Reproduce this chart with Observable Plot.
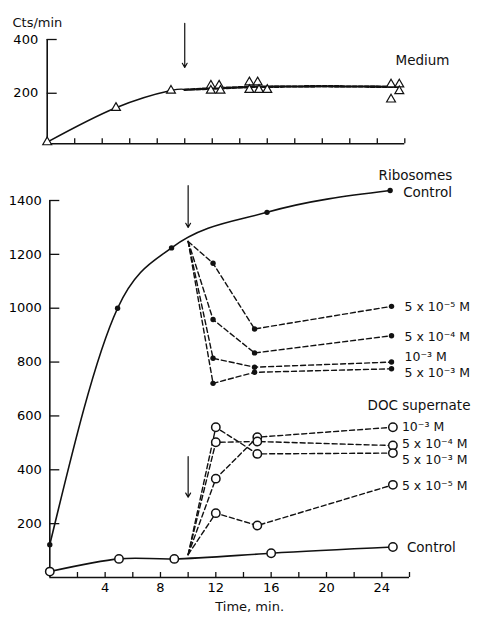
<!DOCTYPE html>
<html><head><meta charset="utf-8">
<script src="https://cdn.jsdelivr.net/npm/d3@7"></script>
<script src="https://cdn.jsdelivr.net/npm/@observablehq/plot@0.6"></script>
<style>
body{margin:0;background:#fff;}
#wrap{position:relative;width:484px;height:617px;}
#top{position:absolute;left:0;top:0;}
#main{position:absolute;left:0;top:160px;}
svg{overflow:visible}
</style></head><body><div id="wrap"><div id="top"></div><div id="main"></div></div>
<script>
// ---------- tick values ----------
const timeTicks = [0, 2, 4, 6, 8, 10, 12, 14, 16, 18, 20, 22, 24, 26];
const timeTickLabels = [4, 8, 12, 16, 20, 24];
const medYTicks = [200, 400];
const mainYTicks = [200, 400, 600, 800, 1000, 1200, 1400];

// ---------- Medium (top panel) ----------
const medCurveTime = [0, 5, 9, 10];
const medCurveVal = [18, 146, 210, 213];
const medDashTime = [10, 12, 15, 20, 25.5];
const medDashVal = [213, 218, 224, 226, 224];
const medTriTime = [0, 5, 9, 11.9, 12.5, 11.9, 12.6, 14.7, 15.3, 14.7, 15.4, 16.0, 25.0, 25.6, 25.0, 25.6];
const medTriVal  = [18, 146, 210, 229, 229, 210, 210, 241, 241, 213, 213, 213, 233, 233, 177, 208];
const medArrow = [{t: 10, from: 460, to: 296}];

// ---------- Ribosomes ----------
const ribCtrlTime = [0, 4.9, 8.8, 15.7, 24.6];
const ribCtrlVal = [122, 1000, 1224, 1356, 1437];
const ribTimes = [10, 11.8, 14.8, 24.7];
const rib5e5 = [1248, 1167, 923, 1007];
const rib5e4 = [1248, 958, 834, 898];
const rib1e3 = [1248, 814, 781, 800];
const rib5e3 = [1248, 721, 762, 775];
const ribNames = ["5 x 10⁻⁵ M", "5 x 10⁻⁴ M", "10⁻³ M", "5 x 10⁻³ M"];
const ribArrow = [{t: 10, from: 1455, to: 1300}];

// ---------- DOC supernate ----------
const docCtrlTime = [0, 5, 9, 16, 24.8];
const docCtrlVal = [22, 69, 69, 90, 113];
const docTimes = [10, 12, 15, 24.8];
const doc1e3 = [85, 367, 521, 558];
const doc5e4 = [85, 502, 505, 490];
const doc5e3 = [85, 558, 459, 462];
const doc5e5 = [85, 239, 193, 344];
const docNames = ["10⁻³ M", "5 x 10⁻⁴ M", "5 x 10⁻³ M", "5 x 10⁻⁵ M"];
const docArrow = [{t: 10, from: 449, to: 298}];

// ---------- build tables ----------
const zip = (ts, vs) => ts.map((t, i) => ({t, v: vs[i]}));
const medCurve = zip(medCurveTime, medCurveVal);
const medDash = zip(medDashTime, medDashVal);
const medTri = zip(medTriTime, medTriVal);
const ribCtrl = zip(ribCtrlTime, ribCtrlVal);
const docCtrl = zip(docCtrlTime, docCtrlVal);
const ribValues = [rib5e5, rib5e4, rib1e3, rib5e3];
const docValues = [doc1e3, doc5e4, doc5e3, doc5e5];
const ribRows = ribValues.flatMap((vs, k) => ribTimes.map((t, i) => ({t, v: vs[i], s: ribNames[k], i})));
const docRows = docValues.flatMap((vs, k) => docTimes.map((t, i) => ({t, v: vs[i], s: docNames[k], i})));
const ribLabelDy = [1, 1, -5, 4];
const docLabelDy = [0, -2, 7, 1];

const FONT = "DejaVu Sans, sans-serif";
const baseStyle = {fontFamily: FONT, fontSize: "13px", background: "transparent", overflow: "visible", color: "#000"};
const ink = "#111";

// ---------- top panel ----------
const topW = 484, topH = 160, topML = 46.7, topMR = 79.7, topMT = 39, topMB = 16.7;
const topPlot = Plot.plot({
  width: topW, height: topH,
  marginLeft: topML, marginRight: topMR, marginTop: topMT, marginBottom: topMB,
  style: baseStyle,
  x: {domain: [0, 26], axis: null},
  y: {domain: [12, 400], ticks: medYTicks, tickSize: 0, tickPadding: 9, tickFormat: d => String(d), label: null},
  marks: [
    Plot.ruleY([12], {stroke: ink, strokeWidth: 1.6}),
    Plot.ruleX([0], {stroke: ink, strokeWidth: 1.6}),
    Plot.tickX(timeTicks, {x: d => d, stroke: ink, strokeWidth: 1.3, insetTop: (topH - topMT - topMB) - 5}),
    Plot.tickY(medYTicks, {y: d => d, stroke: ink, strokeWidth: 1.3, insetRight: (topW - topML - topMR) - 10}),
    Plot.line(medCurve, {x: "t", y: "v", curve: "natural", stroke: ink, strokeWidth: 1.5}),
    Plot.line(medDash, {x: "t", y: "v", curve: "linear", stroke: ink, strokeWidth: 2.6, strokeDasharray: "4,2"}),
    Plot.dot(medTri, {x: "t", y: "v", symbol: "triangle", r: 3.3, fill: "white", stroke: ink, strokeWidth: 1.2}),
    Plot.arrow(medArrow, {x1: "t", x2: "t", y1: "from", y2: "to", stroke: ink, strokeWidth: 1.2, headLength: 6}),
    Plot.text(["Cts/min"], {frameAnchor: "top-left", textAnchor: "start", dx: -34.7, dy: -22, fontSize: 13, fill: ink, style: "letter-spacing:0.6px"}),
    Plot.text(["Medium"], {frameAnchor: "top-right", textAnchor: "start", dx: -9.3, dy: 16, fontSize: 13.5, fill: ink})
  ]
});
document.getElementById("top").appendChild(topPlot);

// ---------- main panel ----------
const mW = 484, mH = 457, mML = 49.3, mMR = 75, mMT = 40, mMB = 40;
const mainPlot = Plot.plot({
  width: mW, height: mH,
  marginLeft: mML, marginRight: mMR, marginTop: mMT, marginBottom: mMB,
  style: baseStyle,
  x: {domain: [0, 26], ticks: timeTickLabels, tickSize: 0, tickPadding: 5, tickFormat: d => String(d), label: null},
  y: {domain: [0, 1400], ticks: mainYTicks, tickSize: 0, tickPadding: 8, tickFormat: d => String(d), label: null},
  marks: [
    Plot.ruleY([0], {stroke: ink, strokeWidth: 1.6}),
    Plot.ruleX([0], {stroke: ink, strokeWidth: 1.6}),
    Plot.tickX(timeTicks, {x: d => d, stroke: ink, strokeWidth: 1.3, insetTop: (mH - mMT - mMB) - 5}),
    Plot.tickY(mainYTicks, {y: d => d, stroke: ink, strokeWidth: 1.3, insetRight: (mW - mML - mMR) - 10}),
    // ribosomes
    Plot.line(ribCtrl, {x: "t", y: "v", curve: "monotone-x", stroke: ink, strokeWidth: 1.6}),
    Plot.line(ribRows, {x: "t", y: "v", z: "s", stroke: ink, strokeWidth: 1.4, strokeDasharray: "5,3"}),
    Plot.dot(ribCtrl, {x: "t", y: "v", r: 2.7, fill: ink}),
    Plot.dot(ribRows.filter(d => d.i > 0), {x: "t", y: "v", r: 2.7, fill: ink}),
    // DOC
    Plot.line(docCtrl, {x: "t", y: "v", curve: "natural", stroke: ink, strokeWidth: 1.6}),
    Plot.line(docRows, {x: "t", y: "v", z: "s", stroke: ink, strokeWidth: 1.4, strokeDasharray: "5,3"}),
    Plot.dot(docCtrl, {x: "t", y: "v", r: 4.2, fill: "white", stroke: ink, strokeWidth: 1.5}),
    Plot.dot(docRows.filter(d => d.i > 0), {x: "t", y: "v", r: 4.2, fill: "white", stroke: ink, strokeWidth: 1.5}),
    // arrows
    Plot.arrow(ribArrow, {x1: "t", x2: "t", y1: "from", y2: "to", stroke: ink, strokeWidth: 1.2, headLength: 6}),
    Plot.arrow(docArrow, {x1: "t", x2: "t", y1: "from", y2: "to", stroke: ink, strokeWidth: 1.2, headLength: 6}),
    // series labels
    ...ribNames.map((n, k) => Plot.text(ribRows.filter(d => d.s === n && d.i === 3), {x: "t", y: "v", text: "s", textAnchor: "start", dx: 13, dy: ribLabelDy[k], fontSize: 12.5, fill: ink})),
    ...docNames.map((n, k) => Plot.text(docRows.filter(d => d.s === n && d.i === 3), {x: "t", y: "v", text: "s", textAnchor: "start", dx: 9, dy: docLabelDy[k], fontSize: 12.5, fill: ink})),
    Plot.text(ribCtrl.slice(-1), {x: "t", y: "v", text: () => "Control", textAnchor: "start", dx: 13, dy: 2, fontSize: 13.5, fill: ink, style: "letter-spacing:1px"}),
    Plot.text(docCtrl.slice(-1), {x: "t", y: "v", text: () => "Control", textAnchor: "start", dx: 14, dy: 1, fontSize: 13.5, fill: ink, style: "letter-spacing:1px"}),
    Plot.text(["Ribosomes"], {frameAnchor: "top-right", textAnchor: "start", dx: -31, dy: -30, fontSize: 13.5, fill: ink, style: "letter-spacing:1px"}),
    Plot.text(["DOC supernate"], {frameAnchor: "top-right", textAnchor: "start", dx: -42, dy: 200, fontSize: 13.5, fill: ink, style: "letter-spacing:0.6px"}),
    Plot.text(["Time, min."], {frameAnchor: "bottom", dx: 20, dy: 33, fontSize: 13, fill: ink, style: "letter-spacing:1.2px"})
  ]
});
document.getElementById("main").appendChild(mainPlot);
</script>
</body></html>
